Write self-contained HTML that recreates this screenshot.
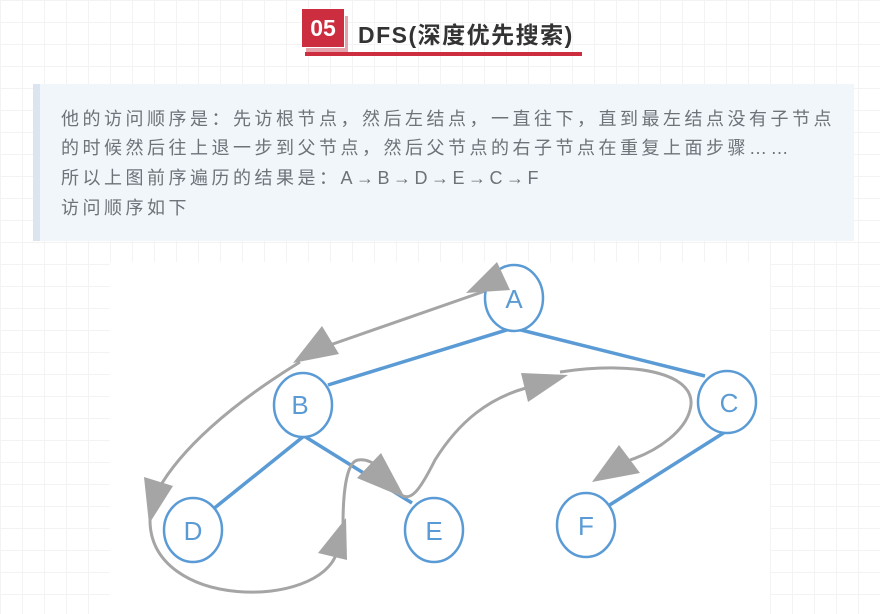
<!DOCTYPE html>
<html><head><meta charset="utf-8"><style>
body{margin:0;width:880px;height:614px;overflow:hidden;background:#fff;
background-image:linear-gradient(#f3f3f3 1px,transparent 1px),linear-gradient(90deg,#f3f3f3 1px,transparent 1px);background-size:22px 22px;
font-family:"Liberation Sans","Noto Sans CJK SC",sans-serif;position:relative}
.t{position:absolute;left:33px;top:84px;width:814px;height:157px;background:#f1f6fb;border-left:7px solid #dbe5f0}
.t p{margin:0;position:absolute;left:21px;font-size:18px;letter-spacing:3.5px;color:#6c7379;white-space:nowrap}
</style></head><body>
<div style="position:absolute;left:306px;top:16px;width:42px;height:40px;background:#e5a2aa"></div>
<div style="position:absolute;left:301px;top:8px;width:42px;height:38px;background:#cd2e3f;border:1px solid #fff;color:#fff;font-weight:bold;font-size:23px;text-align:center;line-height:38px">05</div>
<div style="position:absolute;left:358px;top:16px;font-size:23px;font-weight:bold;color:#333;letter-spacing:1.5px">DFS(深度优先搜索)</div>
<div style="position:absolute;left:305px;top:52px;width:277px;height:4px;background:#cd2e3f"></div>
<div class="t">
<p style="top:21px">他的访问顺序是：先访根节点，然后左结点，一直往下，直到最左结点没有子节点</p>
<p style="top:50px">的时候然后往上退一步到父节点，然后父节点的右子节点在重复上面步骤……</p>
<p style="top:80px">所以上图前序遍历的结果是：A→B→D→E→C→F</p>
<p style="top:110px">访问顺序如下</p>
</div>
<svg width="880" height="614" style="position:absolute;left:0;top:0">
<rect x="110" y="262" width="660" height="352" fill="#fff"/>
<g stroke="#5b9bd5" stroke-width="3.5" fill="none">
<line x1="513" y1="328" x2="328" y2="385"/>
<line x1="513" y1="328" x2="705" y2="376"/>
<line x1="304" y1="436" x2="212" y2="510"/>
<line x1="304" y1="436" x2="412" y2="503"/>
<line x1="725" y1="432" x2="608" y2="506"/>
</g>
<g stroke="#a5a5a5" stroke-width="3" fill="none">
<path d="M488 290 L330 345"/>
<path d="M300 362 C230 405 180 450 158 490"/>
<path d="M150 520 C150 610 320 610 337 552"/>
<path d="M343 525 C343 500 345 462 358 460 C372 458 380 470 385 470"/>
<path d="M398 492 C410 505 420 490 435 460 C460 420 490 398 526 388"/>
<path d="M560 372 C640 360 700 375 690 410 C685 430 660 450 630 460"/>
</g>
<g stroke="#5b9bd5" stroke-width="2.5" fill="#fff">
<ellipse cx="514" cy="298" rx="29" ry="33"/>
<ellipse cx="303" cy="405" rx="29" ry="32"/>
<ellipse cx="727" cy="402" rx="29" ry="31"/>
<ellipse cx="193" cy="530" rx="29" ry="32"/>
<ellipse cx="434" cy="530" rx="29" ry="32"/>
<ellipse cx="586" cy="525" rx="29" ry="32"/>
</g>
<g fill="#a5a5a5">
<polygon points="497,262 466,293 510,290"/>
<polygon points="293,363 322,326 339,354"/>
<polygon points="149,524 144,477 173,486"/>
<polygon points="346,518 318,553 347,560"/>
<polygon points="405,498 357,478 381,453"/>
<polygon points="568,375 521,373 528,402"/>
<polygon points="592,482 619,445 640,473"/>
</g>
<g fill="#5b9bd5" font-size="26" text-anchor="middle" font-family="Liberation Sans,sans-serif">
<text x="514" y="308">A</text><text x="300" y="414">B</text><text x="729" y="412">C</text>
<text x="193" y="540">D</text><text x="434" y="540">E</text><text x="586" y="535">F</text>
</g>
</svg>
</body></html>
